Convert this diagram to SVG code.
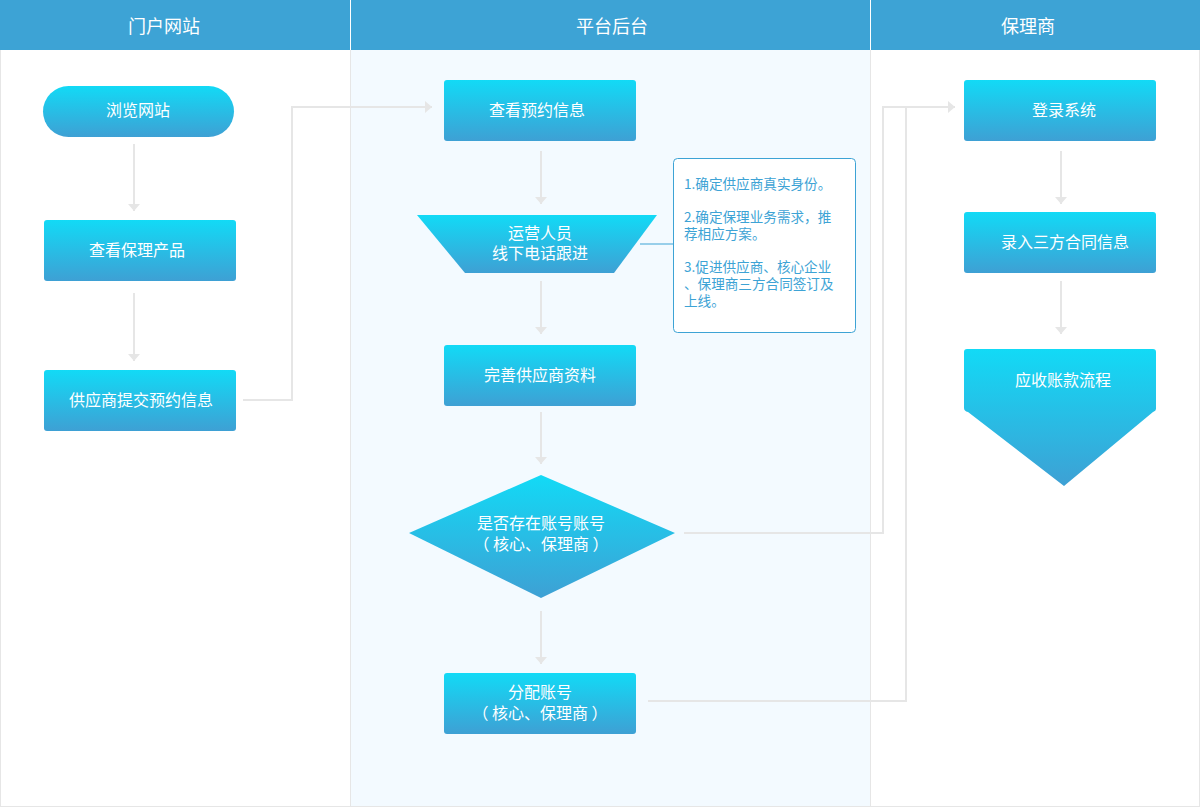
<svg xmlns="http://www.w3.org/2000/svg" width="1200" height="808" viewBox="0 0 1200 808">
  <defs>
    <linearGradient id="nodeFill" x1="0" y1="0" x2="0" y2="1">
      <stop offset="0" stop-color="#12daf6"/>
      <stop offset="1" stop-color="#3ea0d4"/>
    </linearGradient>
    <marker id="arrow" viewBox="0 0 7 12" refX="7" refY="6" markerWidth="7" markerHeight="12" markerUnits="userSpaceOnUse" orient="auto">
      <path d="M0,0 L7,6 L0,12 Z" fill="#e6e6e6"/>
    </marker>
    <style>
      .lane { stroke: #e6e6e6; stroke-width: 1; }
      .head { fill: #3da3d5; }
      .headText { font-family: "Noto Sans CJK SC", "Noto Sans", sans-serif; font-size: 18px; fill: #ffffff; text-anchor: middle; }
      .node { fill: url(#nodeFill); }
      .label { font-family: "Noto Sans CJK SC", "Noto Sans", sans-serif; font-size: 16px; fill: #ffffff; text-anchor: middle; }
      .link { fill: none; stroke: #e6e6e6; stroke-width: 2; }
      .note { font-family: "Noto Sans CJK SC", "Noto Sans", sans-serif; font-size: 13.6px; fill: #3da3d5; }
    </style>
  </defs>

  <!-- swimlane backgrounds -->
  <g id="lanes">
    <rect x="0.5" y="49.5" width="350" height="757" fill="#ffffff" class="lane"/>
    <rect x="350.5" y="49.5" width="520" height="757" fill="#f3faff" class="lane"/>
    <rect x="870.5" y="49.5" width="329" height="757" fill="#ffffff" class="lane"/>
    <rect x="0" y="0" width="1200" height="50" class="head"/>
    <line x1="350.5" y1="0" x2="350.5" y2="50" stroke="#ffffff" stroke-width="1"/>
    <line x1="870.5" y1="0" x2="870.5" y2="50" stroke="#ffffff" stroke-width="1"/>
    <text x="164" y="33" class="headText">门户网站</text>
    <text x="612" y="33" class="headText">平台后台</text>
    <text x="1028" y="33" class="headText">保理商</text>
  </g>

  <!-- connectors -->
  <g id="connectors">
    <line x1="134" y1="144" x2="134" y2="211" class="link" marker-end="url(#arrow)"/>
    <line x1="134" y1="293" x2="134" y2="361" class="link" marker-end="url(#arrow)"/>
    <polyline points="243,400 292,400 292,107 432,107" class="link" marker-end="url(#arrow)"/>
    <line x1="541" y1="151" x2="541" y2="204" class="link" marker-end="url(#arrow)"/>
    <line x1="541" y1="281" x2="541" y2="334" class="link" marker-end="url(#arrow)"/>
    <line x1="541" y1="412" x2="541" y2="464" class="link" marker-end="url(#arrow)"/>
    <line x1="541" y1="611" x2="541" y2="664" class="link" marker-end="url(#arrow)"/>
    <polyline points="684,533 883,533 883,107 955,107" class="link" marker-end="url(#arrow)"/>
    <polyline points="648,701 906,701 906,107" class="link"/>
    <line x1="1061" y1="151" x2="1061" y2="204" class="link" marker-end="url(#arrow)"/>
    <line x1="1061" y1="281" x2="1061" y2="334" class="link" marker-end="url(#arrow)"/>
    <line x1="640" y1="244" x2="673" y2="244" stroke="#3da3d5" stroke-width="1"/>
  </g>

  <g id="browse">
    <rect x="43" y="86" width="191" height="51" rx="25.5" class="node"/>
    <text x="138" y="116" class="label">浏览网站</text>
  </g>
  <g id="products">
    <rect x="44" y="220" width="192" height="61" rx="3" class="node"/>
    <text x="137" y="256" class="label">查看保理产品</text>
  </g>
  <g id="submit">
    <rect x="44" y="370" width="192" height="61" rx="3" class="node"/>
    <text x="141" y="406" class="label">供应商提交预约信息</text>
  </g>

  <g id="viewBooking">
    <rect x="444" y="80" width="192" height="61" rx="3" class="node"/>
    <text x="537" y="116" class="label">查看预约信息</text>
  </g>
  <g id="followUp">
    <polygon points="417,215 657,215 614,273 465,273" class="node"/>
    <text x="540" y="239" class="label">运营人员</text>
    <text x="540" y="259" class="label">线下电话跟进</text>
  </g>
  <g id="note">
    <rect x="673.5" y="158.5" width="182" height="174" rx="4" fill="#ffffff" stroke="#3da3d5" stroke-width="1"/>
    <text x="684" y="189" class="note">1.确定供应商真实身份。</text>
    <text x="684" y="222" class="note">2.确定保理业务需求，推</text>
    <text x="684" y="239" class="note">荐相应方案。</text>
    <text x="684" y="272" class="note">3.促进供应商、核心企业</text>
    <text x="684" y="289" class="note">、保理商三方合同签订及</text>
    <text x="684" y="306" class="note">上线。</text>
  </g>
  <g id="complete">
    <rect x="444" y="345" width="192" height="61" rx="3" class="node"/>
    <text x="540" y="381" class="label">完善供应商资料</text>
  </g>
  <g id="accountCheck">
    <polygon points="541,475 675,533 541,598 409,533" class="node"/>
    <text x="541" y="529" class="label">是否存在账号账号</text>
    <text x="541" y="550" class="label">（ 核心、保理商 ）</text>
  </g>
  <g id="assign">
    <rect x="444" y="673" width="192" height="61" rx="3" class="node"/>
    <text x="540" y="698" class="label">分配账号</text>
    <text x="540" y="719" class="label">（ 核心、保理商 ）</text>
  </g>

  <g id="login">
    <rect x="964" y="80" width="192" height="61" rx="3" class="node"/>
    <text x="1064" y="116" class="label">登录系统</text>
  </g>
  <g id="contract">
    <rect x="964" y="212" width="192" height="61" rx="3" class="node"/>
    <text x="1065" y="248" class="label">录入三方合同信息</text>
  </g>
  <g id="receivables">
    <path d="M967,349 H1153 Q1156,349 1156,352 V409 Q1156,411 1153,412 L1064,486 L968,412 Q964,411 964,408 V352 Q964,349 967,349 Z" class="node"/>
    <text x="1063" y="386" class="label">应收账款流程</text>
  </g>
</svg>
